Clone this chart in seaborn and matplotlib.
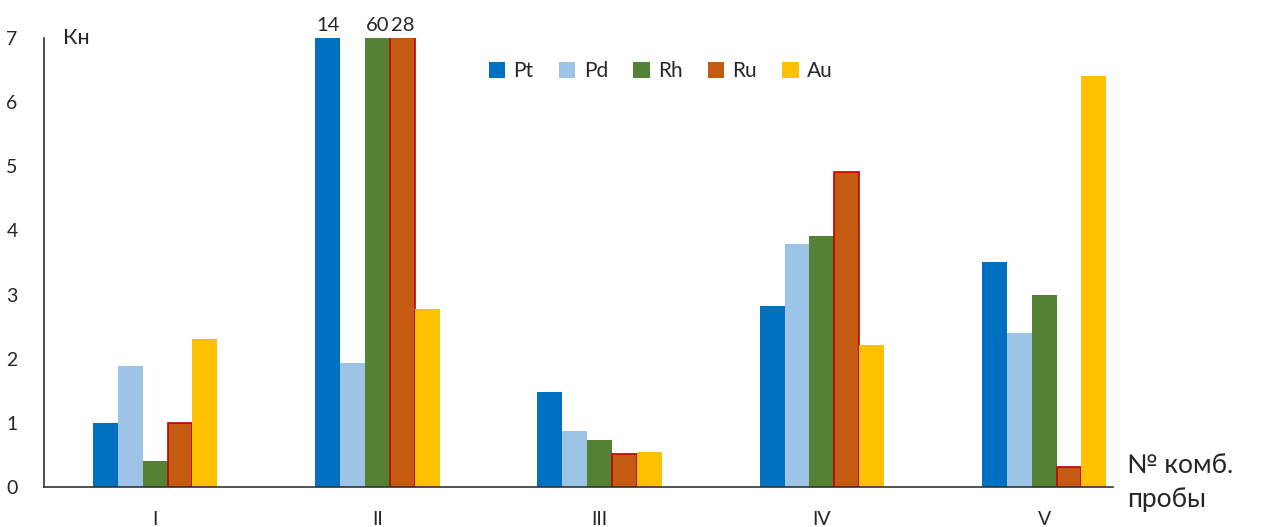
import pandas as pd
import matplotlib.pyplot as plt
import seaborn as sns

# Data
samples = ['I', 'II', 'III', 'IV', 'V']
elements = ['Pt', 'Pd', 'Rh', 'Ru', 'Au']
pt = [1.0, 14, 1.48, 2.82, 3.51]
pd_ = [1.89, 1.93, 0.87, 3.79, 2.40]
rh = [0.41, 60, 0.73, 3.92, 3.0]
ru = [1.0, 28, 0.51, 4.91, 0.31]
au = [2.31, 2.78, 0.55, 2.22, 6.41]
colors = ['#0070C0', '#9DC3E6', '#548235', '#C55A11', '#FFC000']

series = {'Pt': pt, 'Pd': pd_, 'Rh': rh, 'Ru': ru, 'Au': au}
df = pd.DataFrame([
    {'Sample': s, 'Element': el, 'Kn': v}
    for el, vals in series.items()
    for s, v in zip(samples, vals)
])

sns.set_style('white')
plt.rcParams['font.family'] = ['Lato', 'DejaVu Sans']

fig = plt.figure(figsize=(12.62, 5.27), dpi=100)
ax = fig.add_axes([0.0349, 0.0759, 0.847, 0.852])

sns.barplot(data=df, x='Sample', y='Kn', hue='Element', order=samples,
            hue_order=elements, palette=colors, width=0.56, saturation=1,
            linewidth=0, ax=ax)

# red outline on Ru bars
for el, cont in zip(elements, ax.containers):
    for p in cont:
        if el == 'Ru':
            p.set_edgecolor('#C00000')
            p.set_linewidth(1.2)

ax.set_ylim(0, 7)
ax.set_xlim(-0.5, 4.31)
ax.set_yticks(range(0, 8))
ax.tick_params(axis='y', labelsize=14, length=0, pad=19)
ax.tick_params(axis='x', labelsize=14, length=0, pad=17)
ax.set_xlabel('')
ax.set_ylabel('')
for side in ['top', 'right']:
    ax.spines[side].set_visible(False)
for side in ['left', 'bottom']:
    ax.spines[side].set_color('#333333')
    ax.spines[side].set_linewidth(1.2)

# values of off-scale bars in group II
for i, el in enumerate(elements):
    val = series[el][1]
    if val > 7:
        p = ax.containers[i][1]
        ax.text(p.get_x() + p.get_width() / 2, 7.07, str(val), ha='center',
                va='bottom', fontsize=14.5, clip_on=False)

ax.text(0.018, 1.0, 'Кн', transform=ax.transAxes, fontsize=15.5, va='center')
fig.text(0.893, 0.085, '№ комб.\nпробы', fontsize=19, va='center',
         linespacing=1.45)

ax.legend(loc='upper center', bbox_to_anchor=(0.577, 0.99), ncol=5,
          frameon=False, fontsize=15, handlelength=0.8, handleheight=0.8,
          columnspacing=1.2, handletextpad=0.4)

plt.savefig('out.png', dpi=100)
